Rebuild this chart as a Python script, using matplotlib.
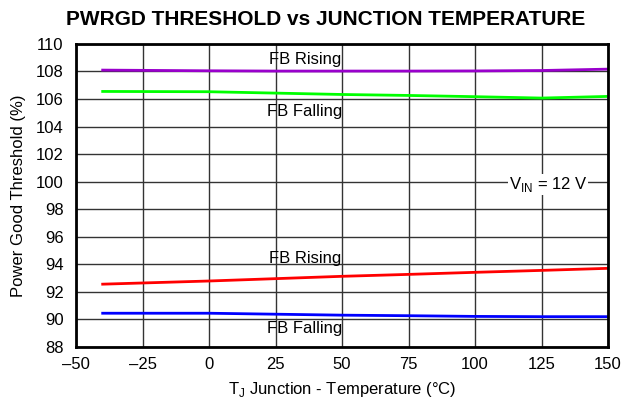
import matplotlib
matplotlib.use("Agg")
import matplotlib.pyplot as plt

plt.rcParams['font.family'] = ['Liberation Sans', 'DejaVu Sans']

temps = [-40, 0, 25, 50, 75, 100, 125, 150]
rise_high = [108.10, 108.05, 108.03, 108.03, 108.03, 108.04, 108.07, 108.17]
fall_high = [106.55, 106.53, 106.43, 106.33, 106.26, 106.17, 106.07, 106.19]
rise_low = [92.56, 92.79, 92.96, 93.13, 93.27, 93.42, 93.56, 93.71]
fall_low = [90.45, 90.45, 90.38, 90.31, 90.27, 90.22, 90.20, 90.20]

xticks = [-50, -25, 0, 25, 50, 75, 100, 125, 150]
xlabels = ['–50', '–25', '0', '25', '50', '75', '100', '125', '150']
yticks = list(range(88, 111, 2))

fig = plt.figure(figsize=(6.34, 4.03), dpi=100)
ax = fig.add_axes([0.12, 0.139, 0.839, 0.752])

ax.plot(temps, rise_high, color='#9900cc', lw=2)
ax.plot(temps, fall_high, color='#00ff00', lw=2)
ax.plot(temps, rise_low, color='#ff0000', lw=2)
ax.plot(temps, fall_low, color='#0000ff', lw=2)

ax.set_xlim(-50, 150)
ax.set_ylim(88, 110)
ax.set_xticks(xticks)
ax.set_xticklabels(xlabels)
ax.set_yticks(yticks)
ax.tick_params(axis='y', length=0, labelsize=12, pad=9)
ax.tick_params(axis='x', length=0, labelsize=12, pad=7)
ax.grid(True, color='#333333', lw=1)
ax.set_axisbelow(True)
for s in ax.spines.values():
    s.set_linewidth(2)

fs = 12
ax.text(36, 108.85, 'FB Rising', ha='center', va='center', fontsize=fs)
ax.text(36, 105.1, 'FB Falling', ha='center', va='center', fontsize=fs)
ax.text(36, 94.45, 'FB Rising', ha='center', va='center', fontsize=fs)
ax.text(36, 89.35, 'FB Falling', ha='center', va='center', fontsize=fs)
ax.text(127.5, 99.8, r'V$_{\mathregular{IN}}$ = 12 V', ha='center', va='center', fontsize=fs,
        bbox=dict(facecolor='white', edgecolor='none', pad=0.5))

ax.set_xlabel(r'T$_{\mathregular{J}}$ Junction - Temperature (°C)', fontsize=fs, labelpad=6)
ax.set_ylabel('Power Good Threshold (%)', fontsize=fs, labelpad=7)
fig.text(0.513, 0.951, 'PWRGD THRESHOLD vs JUNCTION TEMPERATURE', fontsize=15,
         fontweight='bold', ha='center', va='center')

fig.savefig('out.png', dpi=100)
